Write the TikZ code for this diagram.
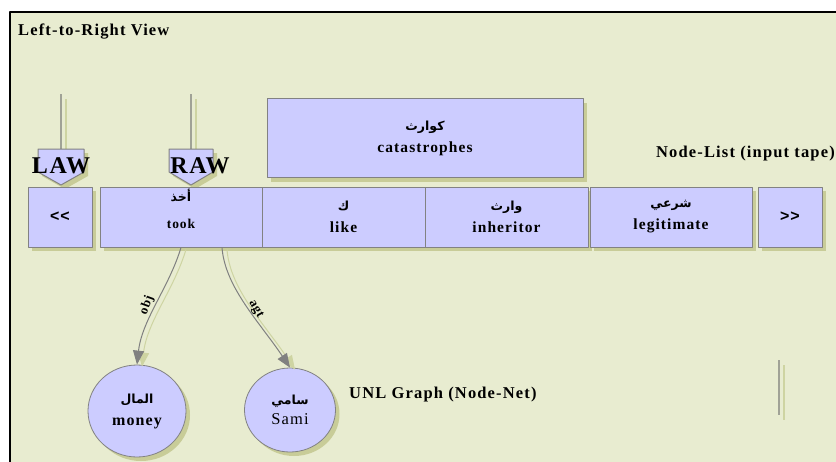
\documentclass[tikz,border=0pt]{standalone}
\usepackage{fontspec}
\setmainfont[LetterSpace=7]{Liberation Serif}
\newfontfamily\arabicfont[Script=Arabic]{DejaVu Sans}
\newfontfamily\tapefont{Liberation Sans}
\TeXXeTstate=1
\usetikzlibrary{arrows.meta,shadows,shapes.geometric}
\definecolor{bgc}{RGB}{232,236,208}
\definecolor{boxfill}{RGB}{204,204,255}
\definecolor{boxline}{RGB}{130,130,130}
\definecolor{shadowc}{RGB}{200,204,152}
\definecolor{edgec}{RGB}{128,128,128}
\definecolor{lightc}{RGB}{206,212,162}
\definecolor{feedc}{RGB}{160,162,150}
\newcommand\arab[1]{{\arabicfont\bfseries\fontsize{12.5}{14}\selectfont\beginR #1\endR}}
\begin{document}
\begin{tikzpicture}[x=1pt, y=-1pt, line join=round,
  cell/.style={rectangle, draw=boxline, fill=boxfill, line width=1pt, minimum height=60pt, inner sep=0pt, align=center, font=\fontsize{15.5}{22}\selectfont\bfseries, drop shadow={shadow xshift=4pt, shadow yshift=-4pt, fill=shadowc, opacity=1}},
  word node/.style={ellipse, draw=boxline, fill=boxfill, line width=0.8pt, inner sep=0pt, align=center, font=\fontsize{16}{22}\selectfont\bfseries, drop shadow={shadow xshift=4pt, shadow yshift=-4pt, fill=shadowc, opacity=1}},
  ptr/.style={draw=boxline, fill=boxfill, line width=1pt, drop shadow={shadow xshift=4pt, shadow yshift=-4pt, fill=shadowc, opacity=1}},
  feed/.style={draw=feedc, line width=1.5pt},
  feed shadow/.style={draw=lightc, line width=2pt, transform canvas={xshift=5pt, yshift=-5pt}},
  rel/.style={draw=edgec, line width=1pt, -{Triangle[length=14pt,width=11pt]}},
  rel shadow/.style={draw=lightc, line width=1pt, -{Triangle[length=14pt,width=11pt]}, transform canvas={xshift=5pt, yshift=-2pt}},
  title/.style={font=\fontsize{16.5}{18}\selectfont\bfseries, inner sep=0pt},
  big/.style={font=\fontsize{24}{26}\selectfont\bfseries, inner sep=0pt},
  lbl/.style={font=\fontsize{13}{14}\selectfont\bfseries, inner sep=1pt}]
\useasboundingbox (0,0) rectangle (836,461);
\fill[white] (-5,-5) rectangle (845,470);
\fill[bgc] (10,12) rectangle (845,470);
\draw[line width=2.5pt] (10,470) -- (10,12) -- (845,12);

\node[title, anchor=base west] (view) at (18,35) {Left-to-Right View};
\node[title, anchor=base east] (tape) at (835,157) {Node-List (input tape)};
\node[title, anchor=base west] (net) at (349,398) {UNL Graph (Node-Net)};

% pointers
\coordinate (lawtop) at (61,94);
\coordinate (lawin) at (61,150);
\coordinate (rawtop) at (191,94);
\coordinate (rawin) at (191,150);
\draw[feed shadow] (lawtop) -- (lawin);
\draw[feed shadow] (rawtop) -- (rawin);
\draw[feed] (lawtop) -- (lawin);
\draw[feed] (rawtop) -- (rawin);
\draw[ptr] (38,149) -- (84,149) -- (84,172) -- (61,185) -- (38,172) -- cycle;
\draw[ptr] (169,149) -- (213,149) -- (213,172) -- (191,185) -- (169,172) -- cycle;
\node[big] (law) at (61,166) {LAW};
\node[big] (raw) at (200,166) {RAW};

% node list
\begin{scope}
\node[cell, minimum width=316pt, minimum height=79pt] (catas) at (425,138) {\arab{كوارث}\\ catastrophes};
\node[cell, minimum width=64pt, font=\tapefont\bfseries\fontsize{16}{18}\selectfont] (less) at (60,217) {<\kern1pt<};
\node[cell, minimum width=162pt, text depth=17pt, font=\fontsize{13.5}{27}\selectfont\bfseries] (took) at (181,217) {\arab{أخذ}\\ took};
\node[cell, minimum width=163pt] (like) at (343.5,217) {\arab{ك}\\ like};
\node[cell, minimum width=163pt] (heir) at (506.5,217) {\arab{وارث}\\ inheritor};
\node[cell, minimum width=162pt] (legit) at (671,217) {\arab{شرعي}\\ legitimate};
\node[cell, minimum width=64pt, font=\tapefont\bfseries\fontsize{16}{18}\selectfont] (more) at (790,217) {>\kern1pt>};
\end{scope}

% graph
\node[word node, minimum width=98pt, minimum height=92pt] (money) at (137,411) {\arab{المال}\\ money};
\node[word node, minimum width=91pt, minimum height=84pt, font=\fontsize{16.5}{20}\selectfont] (sami) at (290,410) {\arab{سامي}\\ Sami};
\begin{scope}
\draw[rel shadow] (took.south) .. controls +(-12,40) and +(5,-45) .. (money.north);
\draw[rel shadow] ([xshift=41pt]took.south) .. controls +(3,40) and +(-30,-45) .. (sami.north);
\draw[rel] (took.south) .. controls +(-12,40) and +(5,-45) .. node[lbl, pos=0.55, above=2pt, rotate=70]{obj} (money.north);
\draw[rel] ([xshift=41pt]took.south) .. controls +(3,40) and +(-30,-45) .. node[lbl, pos=0.55, above=-1pt, rotate=-61]{agt} (sami.north);
\end{scope}

\coordinate (marka) at (779,360);
\coordinate (markb) at (779,415);
\draw[feed shadow] (marka) -- (markb);
\draw[feed] (marka) -- (markb);
\end{tikzpicture}
\end{document}
